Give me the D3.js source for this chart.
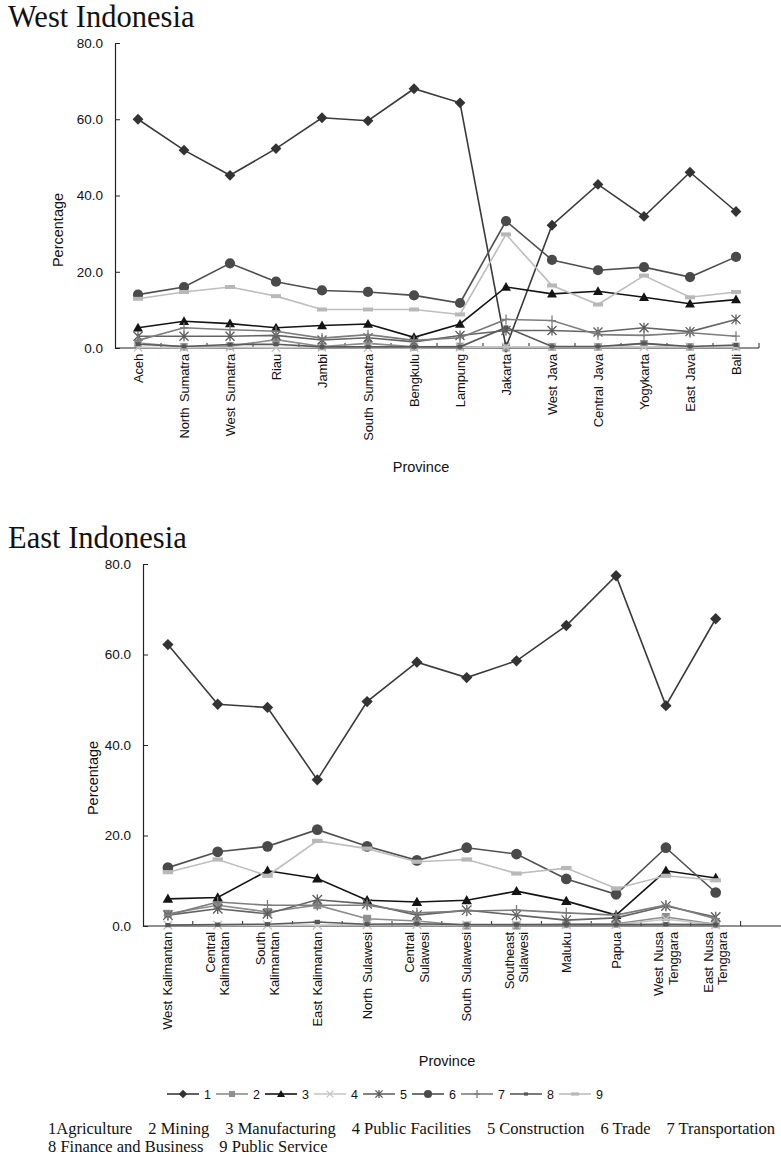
<!DOCTYPE html>
<html><head><meta charset="utf-8">
<script src="https://cdn.jsdelivr.net/npm/d3@7"></script>
<style>body{margin:0;background:#fff}svg{display:block}</style>
</head><body>
<svg id="c" width="781" height="1160"></svg>
<script>
// ---------- DATA ----------
const westProvinces = ["Aceh","North Sumatra","West Sumatra","Riau","Jambi","South Sumatra","Bengkulu","Lampung","Jakarta","West Java","Central Java","Yogykarta","East Java","Bali"];
const westAgriculture     = [60.0, 51.9, 45.3, 52.3, 60.4, 59.6, 68.0, 64.3, 0.2, 32.2, 42.9, 34.5, 46.1, 35.8];
const westMining          = [1.3, 0.3, 0.5, 2.2, 0.4, 1.2, 0.3, 0.4, 0.1, 0.3, 0.3, 1.1, 0.3, 0.4];
const westManufacturing   = [5.3, 7.0, 6.4, 5.3, 5.9, 6.3, 2.8, 6.3, 16.0, 14.2, 14.9, 13.3, 11.6, 12.7];
const westPublicFacilities= [0.2, 0.1, 0.2, 0.1, 0.2, 0.1, 0.1, 0.2, 0.3, 0.3, 0.3, 0.3, 0.3, 0.3];
const westConstruction    = [3.1, 3.1, 3.1, 3.3, 2.1, 2.7, 1.6, 3.3, 4.6, 4.6, 4.2, 5.3, 4.3, 7.5];
const westTrade           = [14.0, 16.0, 22.2, 17.4, 15.1, 14.7, 13.8, 11.8, 33.3, 23.1, 20.4, 21.2, 18.6, 23.9];
const westTransportation  = [2.0, 5.3, 4.8, 4.4, 2.6, 3.5, 2.0, 2.7, 7.5, 7.2, 3.5, 3.3, 4.0, 3.1];
const westFinance         = [1.0, 0.4, 0.9, 1.0, 0.3, 0.3, 0.3, 0.3, 5.4, 0.4, 0.4, 1.2, 0.4, 0.8];
const westPublicService   = [12.9, 14.7, 16.0, 13.6, 10.1, 10.1, 10.1, 8.8, 29.8, 16.4, 11.4, 19.0, 13.3, 14.7];

const eastProvinces = ["West Kalimantan","Central\nKalimantan","South\nKalimantan","East Kalimantan","North Sulawesi","Central\nSulawesi","South Sulawesi","Southeast\nSulawesi","Maluku","Papua","West Nusa\nTenggara","East Nusa\nTenggara",""];
const eastAgriculture     = [62.2, 49.0, 48.3, 32.3, 49.6, 58.3, 54.9, 58.6, 66.4, 77.4, 48.7, 67.9];
const eastMining          = [2.7, 4.6, 3.1, 4.6, 1.6, 1.1, 0.1, 0.1, 0.4, 0.5, 2.0, 0.4];
const eastManufacturing   = [6.0, 6.3, 12.2, 10.5, 5.7, 5.3, 5.7, 7.7, 5.5, 2.4, 12.2, 10.6];
const eastPublicFacilities= [0.2, 0.2, 0.2, 0.2, 0.3, 0.3, 0.2, 0.3, 0.3, 0.3, 1.5, 0.3];
const eastConstruction    = [2.4, 3.8, 2.7, 5.8, 4.9, 2.4, 3.5, 2.4, 1.3, 1.8, 4.4, 2.0];
const eastTrade           = [12.9, 16.4, 17.6, 21.3, 17.6, 14.5, 17.3, 15.9, 10.4, 7.0, 17.3, 7.4];
const eastTransportation  = [2.4, 5.3, 4.6, 4.6, 4.6, 2.9, 3.3, 3.5, 2.9, 2.4, 4.6, 1.6];
const eastFinance         = [0.2, 0.3, 0.4, 0.9, 0.4, 0.5, 0.3, 0.3, 0.3, 0.3, 0.4, 0.3];
const eastPublicService   = [11.9, 14.7, 11.1, 18.8, 17.1, 14.2, 14.7, 11.6, 12.8, 8.3, 11.1, 10.1];

const yTicks = [0, 20, 40, 60, 80];
const sectorCodes = ["1","2","3","4","5","6","7","8","9"];
const footerLine1 = ["1Agriculture","2 Mining","3 Manufacturing","4 Public Facilities","5 Construction","6 Trade","7 Transportation"];
const footerLine2 = ["8 Finance and Business","9 Public Service"];

// ---------- STYLE ----------
const lineColors   = ["#3a3a3a","#8c8c8c","#141414","#c8c8c8","#646464","#4f4f4f","#7d7d7d","#5a5a5a","#bdbdbd"];
const markerColors = ["#333333","#8f8f8f","#141414","#c4c4c4","#5c5c5c","#4a4a4a","#7d7d7d","#555555","#b8b8b8"];
const markerTypes  = ["diamond","square","triangle","x","asterisk","circle","plus","smallsquare","bar"];

const svg = d3.select("#c");
const SANS = "'Liberation Sans', Arial, sans-serif";
const SERIF = "'Liberation Serif', 'Times New Roman', serif";

function drawMarker(g, type, cx, cy, color, k) {
  k = k || 1;
  switch (type) {
    case "diamond": { const r = 5.4*k;
      g.append("path").attr("d", `M${cx},${cy-r}L${cx+r},${cy}L${cx},${cy+r}L${cx-r},${cy}Z`).attr("fill", color); break; }
    case "square": { const r = 3.8*k;
      g.append("rect").attr("x", cx-r).attr("y", cy-r).attr("width", 2*r).attr("height", 2*r).attr("fill", color); break; }
    case "triangle": { const r = 5*k;
      g.append("path").attr("d", `M${cx},${cy-r}L${cx+r},${cy+r*0.75}L${cx-r},${cy+r*0.75}Z`).attr("fill", color); break; }
    case "x": { const r = 4.2*k;
      g.append("path").attr("d", `M${cx-r},${cy-r}L${cx+r},${cy+r}M${cx-r},${cy+r}L${cx+r},${cy-r}`).attr("stroke", color).attr("stroke-width", 1.3).attr("fill","none"); break; }
    case "asterisk": { const r = 4.5*k;
      g.append("path").attr("d", `M${cx-r},${cy-r}L${cx+r},${cy+r}M${cx-r},${cy+r}L${cx+r},${cy-r}M${cx},${cy-r-0.5}L${cx},${cy+r+0.5}`).attr("stroke", color).attr("stroke-width", 1.3).attr("fill","none"); break; }
    case "circle": { const r = 5.1*k;
      g.append("circle").attr("cx", cx).attr("cy", cy).attr("r", r).attr("fill", color); break; }
    case "plus": { const r = 5*k;
      g.append("path").attr("d", `M${cx},${cy-r}L${cx},${cy+r}M${cx-r*0.8},${cy}L${cx+r*0.8},${cy}`).attr("stroke", color).attr("stroke-width", 1.3).attr("fill","none"); break; }
    case "smallsquare": { const w = 5*k, h = 4*k;
      g.append("rect").attr("x", cx-w/2).attr("y", cy-h/2).attr("width", w).attr("height", h).attr("fill", color); break; }
    case "bar": { const w = 10*k, h = 4*k;
      g.append("rect").attr("x", cx-w/2).attr("y", cy-h/2).attr("width", w).attr("height", h).attr("fill", color); break; }
  }
}

function drawPanel(cfg) {
  const g = svg.append("g");
  const x = d3.scaleBand().domain(cfg.categories).range([cfg.left, cfg.right]).paddingInner(0).paddingOuter(0);
  const y = d3.scaleLinear().domain([0, 80]).range([cfg.bottom, cfg.top]);

  svg.append("text").attr("x", 8).attr("y", cfg.titleY).attr("font-family", SERIF).attr("font-size", 30.5)
     .attr("fill", "#111").text(cfg.title);

  const ya = g.append("g").attr("transform", `translate(${cfg.left},0)`)
    .call(d3.axisLeft(y).tickValues(yTicks).tickSize(-5).tickSizeOuter(0).tickPadding(12).tickFormat(d3.format(".1f")));
  ya.select(".domain").attr("stroke", "#222").attr("stroke-width", 1.2);
  ya.selectAll(".tick line").attr("stroke", "#222");
  ya.selectAll(".tick text").attr("font-family", SANS).attr("font-size", 13.5).attr("fill", "#111");

  g.append("line").attr("x1", cfg.left).attr("x2", Math.min(cfg.right, 781)).attr("y1", cfg.bottom).attr("y2", cfg.bottom)
    .attr("stroke", "#222").attr("stroke-width", 1.2);
  const bounds = cfg.categories.map(c => x(c) + x.bandwidth()).filter(v => v < 781);
  g.selectAll(".bt").data(bounds).enter().append("line")
    .attr("x1", d => d).attr("x2", d => d).attr("y1", cfg.bottom).attr("y2", cfg.bottom - 5)
    .attr("stroke", "#222").attr("stroke-width", 1);

  const lab = g.selectAll(".cl").data(cfg.categories.filter(c => c !== "")).enter().append("text")
    .attr("transform", d => `translate(${x(d) + x.bandwidth()/2},${cfg.bottom + cfg.labelGap}) rotate(-90)`)
    .attr("text-anchor", "end").attr("font-family", SANS).attr("font-size", cfg.labelSize).attr("fill", "#111")
    .attr("letter-spacing", -0.15).attr("word-spacing", 2);
  lab.each(function(d) {
    const lines = d.split("\n");
    const t = d3.select(this);
    lines.forEach((ln, i) => {
      t.append("tspan").attr("x", 0)
        .attr("dy", i === 0 ? (0.35 - (lines.length - 1) * 0.55) + "em" : "1.1em")
        .text(ln);
    });
  });

  svg.append("text").attr("transform", `translate(${cfg.yTitleX},${cfg.yTitleY}) rotate(-90)`)
    .attr("text-anchor", "middle").attr("font-family", SANS).attr("font-size", 14.5).attr("fill", "#111").text("Percentage");
  svg.append("text").attr("x", cfg.xTitleX).attr("y", cfg.xTitleY)
    .attr("text-anchor", "middle").attr("font-family", SANS).attr("font-size", 14.5).attr("fill", "#111").text("Province");

  const line = d3.line().defined(d => d.v != null).x(d => x(d.c) + x.bandwidth()/2).y(d => y(d.v));
  cfg.series.forEach((vals, si) => {
    const pts = vals.map((v, i) => ({ c: cfg.categories[i], v }));
    g.append("path").datum(pts).attr("d", line).attr("fill", "none")
      .attr("stroke", lineColors[si]).attr("stroke-width", 1.6);
    const mg = g.append("g");
    pts.forEach(p => drawMarker(mg, markerTypes[si], x(p.c) + x.bandwidth()/2, y(p.v), markerColors[si], cfg.markerScale));
  });
}

drawPanel({
  title: "West Indonesia", titleY: 27,
  categories: westProvinces,
  series: [westAgriculture, westMining, westManufacturing, westPublicFacilities, westConstruction, westTrade, westTransportation, westFinance, westPublicService],
  left: 115, right: 759, top: 43, bottom: 348,
  labelGap: 6, labelSize: 13,
  yTitleX: 63, yTitleY: 230, xTitleX: 421, xTitleY: 472,
  markerScale: 1
});

drawPanel({
  title: "East Indonesia", titleY: 548,
  categories: eastProvinces,
  series: [eastAgriculture, eastMining, eastManufacturing, eastPublicFacilities, eastConstruction, eastTrade, eastTransportation, eastFinance, eastPublicService],
  left: 143, right: 143 + 13 * 49.8, top: 564, bottom: 926,
  labelGap: 6, labelSize: 13,
  yTitleX: 98, yTitleY: 778, xTitleX: 447, xTitleY: 1066,
  markerScale: 1.05
});

const lg = svg.append("g");
sectorCodes.forEach((code, i) => {
  const x0 = 167 + i * 49, cy = 1094;
  lg.append("line").attr("x1", x0).attr("x2", x0 + 32).attr("y1", cy).attr("y2", cy)
    .attr("stroke", lineColors[i]).attr("stroke-width", 1.6);
  drawMarker(lg, markerTypes[i], x0 + 16, cy, markerColors[i], 0.8);
  lg.append("text").attr("x", x0 + 37).attr("y", cy + 4.5).attr("font-family", SANS).attr("font-size", 12.5)
    .attr("fill", "#111").text(code);
});

function footerRow(items, y, gap) {
  let xPos = 48;
  items.forEach(t => {
    const el = svg.append("text").attr("x", xPos).attr("y", y).attr("font-family", SERIF).attr("font-size", 16.5)
      .attr("fill", "#111").text(t);
    xPos += el.node().getComputedTextLength() + gap;
  });
}
footerRow(footerLine1, 1134, 16);
footerRow(footerLine2, 1152, 16);
</script>
</body></html>
